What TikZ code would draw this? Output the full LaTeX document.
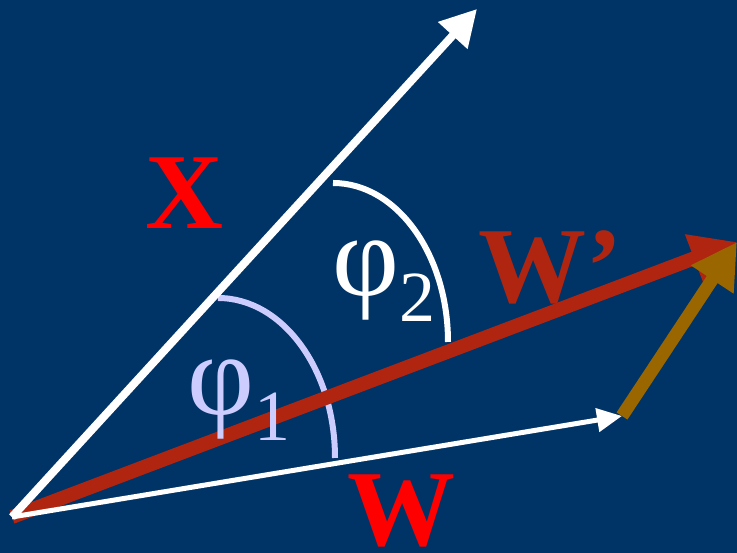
\documentclass[tikz,border=0pt]{standalone}
\usepackage{fontspec}
\setmainfont{Liberation Serif}
\usetikzlibrary{arrows.meta}
\definecolor{Navy}{HTML}{003366}
\definecolor{Rust}{HTML}{B02510}
\definecolor{Ochre}{HTML}{996600}
\definecolor{Lilac}{HTML}{CCCCFF}
\definecolor{Bright}{HTML}{FF0000}
\tikzset{
  vector x/.style={-{Triangle[length=36pt,width=38pt]},line width=8pt,draw=white},
  vector w/.style={-{Triangle[length=25pt,width=23pt]},line width=5pt,draw=white},
  vector wp/.style={-{Triangle[length=46pt,width=48pt]},line width=14pt,draw=Rust},
  vector dw/.style={-{Triangle[length=45pt,width=48pt]},line width=13pt,draw=Ochre},
  angle arc/.style={line width=6pt},
  big label/.style={font=\fontsize{108}{108}\selectfont\bfseries,anchor=base west,inner sep=0pt},
  angle label/.style={font=\fontsize{116}{116}\selectfont,anchor=base west,inner sep=0pt}
}
\newcommand{\subidx}[1]{\raisebox{-26pt}{\fontsize{72}{72}\selectfont #1}}

\begin{document}
\begin{tikzpicture}[x=1pt,y=1pt]
  \fill[Navy] (0,0) rectangle (737,553);
  \useasboundingbox (0,0) rectangle (737,553);
  \coordinate (origin) at (12,36);
  \coordinate (xtip) at (477,544);
  \coordinate (wtip) at (622,137);
  \coordinate (wptip) at (737,311);
  % angle arcs
  \draw[angle arc,Lilac] (218,255) arc[start angle=90,end angle=0,x radius=117,y radius=160];
  \draw[angle arc,white] (333,370) arc[start angle=90,end angle=0,x radius=115,y radius=159];
  % vectors
  \draw[vector wp] (origin) -- (wptip);
  \draw[vector x] (origin) -- (xtip);
  \draw[vector w] (origin) -- (wtip);
  \draw[vector dw] (wtip) -- (wptip);
  % labels
  \node[big label,text=Bright] (xlabel) at (145,324) {X};
  \node[big label,text=Rust] (wplabel) at (478,250) {W’};
  \node[big label,text=Bright] (wlabel) at (347,7) {W};
  \node[angle label,text=Lilac] (phione) at (187,138) {φ\subidx{1}};
  \node[angle label,text=white] (phitwo) at (332,257) {φ\subidx{2}};
\end{tikzpicture}
\end{document}
